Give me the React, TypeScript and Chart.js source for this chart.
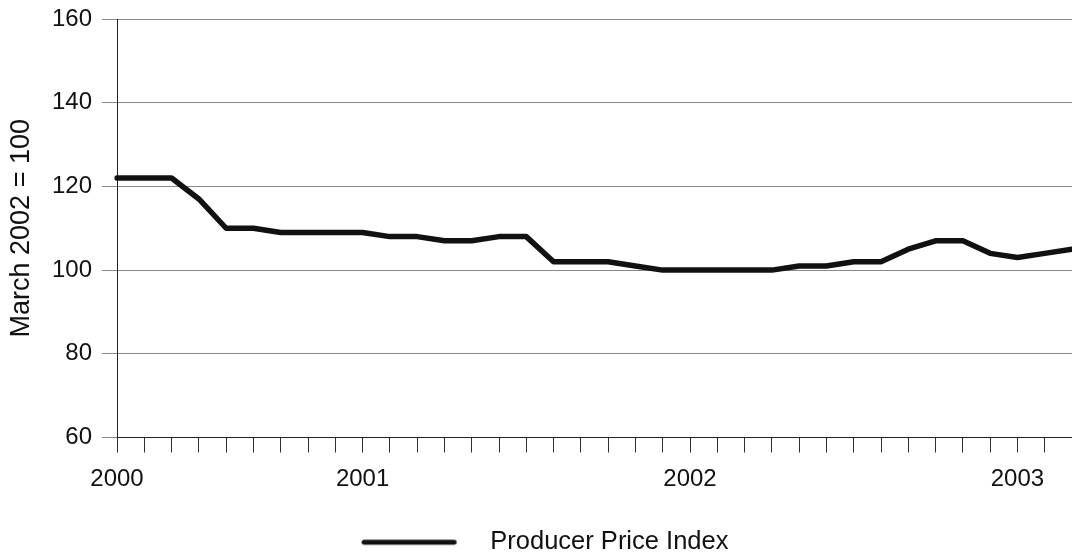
import React, { useEffect, useRef } from 'react';
import { Chart, registerables } from 'chart.js';

Chart.register(...registerables);

const categories = [
  'Apr 2000', 'May 2000', 'Jun 2000', 'Jul 2000', 'Aug 2000', 'Sep 2000',
  'Oct 2000', 'Nov 2000', 'Dec 2000', 'Jan 2001', 'Feb 2001', 'Mar 2001',
  'Apr 2001', 'May 2001', 'Jun 2001', 'Jul 2001', 'Aug 2001', 'Sep 2001',
  'Oct 2001', 'Nov 2001', 'Dec 2001', 'Jan 2002', 'Feb 2002', 'Mar 2002',
  'Apr 2002', 'May 2002', 'Jun 2002', 'Jul 2002', 'Aug 2002', 'Sep 2002',
  'Oct 2002', 'Nov 2002', 'Dec 2002', 'Jan 2003', 'Feb 2003', 'Mar 2003',
];

const ppiValues = [
  122, 122, 122, 117, 110, 110,
  109, 109, 109, 109, 108, 108,
  107, 107, 108, 108, 102, 102,
  102, 101, 100, 100, 100, 100,
  100, 101, 101, 102, 102, 105,
  107, 107, 104, 103, 104, 105,
];

const yearTickLabels: Record<string, string> = {
  'Apr 2000': '2000',
  'Jan 2001': '2001',
  'Jan 2002': '2002',
  'Jan 2003': '2003',
};

const seriesLabel = 'Producer Price Index';
const yAxisTitle = 'March 2002 = 100';
const yMin = 60;
const yMax = 160;
const yStep = 20;

const FONT = '"Liberation Sans", Arial, Helvetica, sans-serif';

export default function App() {
  const ref = useRef<HTMLCanvasElement | null>(null);

  useEffect(() => {
    if (!ref.current) return;
    const swatch = document.createElement('canvas');
    swatch.width = 134;
    swatch.height = 8;
    const sc = swatch.getContext('2d');
    if (sc) {
      sc.strokeStyle = '#111';
      sc.lineWidth = 5;
      sc.lineCap = 'round';
      sc.beginPath();
      sc.moveTo(20.5, 4);
      sc.lineTo(110.5, 4);
      sc.stroke();
    }

    const chart = new Chart(ref.current, {
      type: 'line',
      data: {
        labels: categories,
        datasets: [
          {
            label: seriesLabel,
            data: ppiValues,
            borderColor: '#111',
            backgroundColor: '#111',
            borderWidth: 5.5,
            pointRadius: 0,
            tension: 0,
            borderJoinStyle: 'round',
            borderCapStyle: 'round',
          },
        ],
      },
      options: {
        animation: false,
        responsive: false,
        maintainAspectRatio: false,
        layout: { padding: { top: 19, left: 0, right: 0, bottom: -7 } },
        plugins: {
          tooltip: { enabled: false },
          legend: {
            position: 'bottom',
            labels: {
              usePointStyle: true,
              pointStyle: swatch,
              pointStyleWidth: 134,
              boxHeight: 8,
              padding: 10,
              color: '#111',
              font: { family: FONT, size: 25.5 },
            },
          },
        },
        scales: {
          x: {
            type: 'category',
            offset: false,
            afterFit: (s: any) => {
              s.height = 82;
              s.paddingRight = 0;
              s.paddingLeft = 0;
            },
            grid: {
              drawOnChartArea: false,
              drawTicks: true,
              tickLength: 15,
              color: '#333',
              lineWidth: 1,
            },
            border: { display: true, color: '#222', width: 1 },
            ticks: {
              autoSkip: false,
              maxRotation: 0,
              padding: 12,
              color: '#111',
              font: { family: FONT, size: 24 },
              callback: function (this: any, value: any, index: number) {
                const c = categories[index];
                return yearTickLabels[c] ?? '';
              },
            },
          },
          y: {
            min: yMin,
            max: yMax,
            afterFit: (s: any) => {
              s.width = 117;
              s.paddingTop = 0;
              s.paddingBottom = 0;
            },
            grid: {
              color: '#888',
              lineWidth: 1,
              drawTicks: true,
              tickLength: 15,
            },
            border: { display: true, color: '#222', width: 1 },
            ticks: {
              stepSize: yStep,
              padding: 10,
              color: '#111',
              font: { family: FONT, size: 24 },
            },
            title: {
              display: true,
              text: yAxisTitle,
              color: '#111',
              font: { family: FONT, size: 27 },
              padding: { top: 5, bottom: 0 },
            },
          },
        },
      },
    });
    return () => chart.destroy();
  }, []);

  return (
    <div style={{ position: 'fixed', left: 0, top: 0, width: 1072, height: 558, background: '#fff' }}>
      <canvas ref={ref} width={1072} height={558} style={{ display: 'block' }} />
    </div>
  );
}
